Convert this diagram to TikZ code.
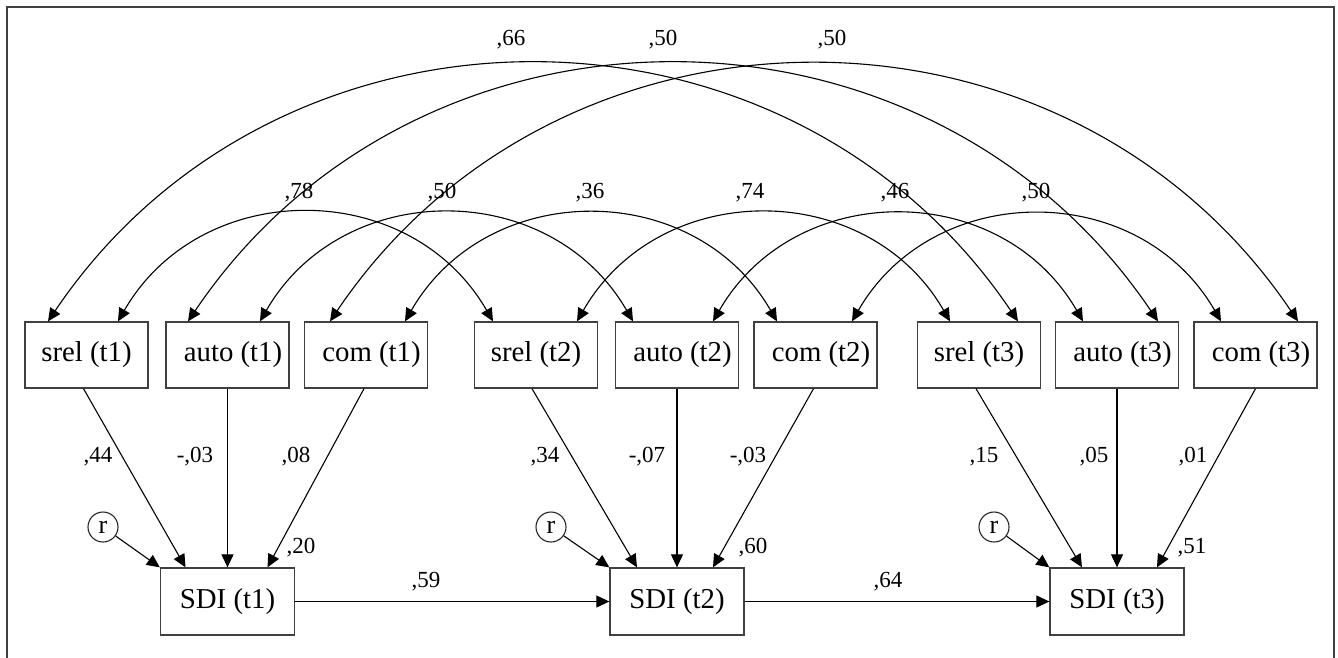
\documentclass[tikz,border=0pt]{standalone}
\usepackage{fontspec}
\setmainfont{Liberation Serif}
\usetikzlibrary{arrows.meta}
\begin{document}
\begin{tikzpicture}[x=1pt,y=1pt,
  box/.style={draw=black!75, line width=1.3pt, minimum width=123pt, minimum height=66pt, inner sep=0pt, font=\fontsize{28.8}{34}\selectfont},
  rbox/.style={box, execute at begin node={\hspace*{11pt}}},
  sdibox/.style={box, minimum width=134pt, minimum height=67pt},
  resid/.style={draw=black!85, line width=1.1pt, circle, minimum size=30pt, inner sep=0pt, font=\fontsize{26}{30}\selectfont},
  lab/.style={inner sep=0pt, font=\fontsize{23}{27}\selectfont},
  conn/.style={line width=1.1pt, -{Triangle[length=13pt,width=12pt]}},
  cov/.style={line width=1.1pt, {Triangle[length=13pt,width=12pt]}-{Triangle[length=13pt,width=12pt]}},
  low/.style={out=60,in=120,looseness=1.14},
  high/.style={out=56,in=124,looseness=1.093},
]
\useasboundingbox (0,0) rectangle (1338,-657);
\draw[black!75, line width=1.3pt] (7,-665) -- (7,-7) -- (1334,-7) -- (1334,-665);

% top row
\node[box] (s1) at (86.5,-355) {srel (t1)};
\node[rbox] (a1) at (227.5,-355) {auto (t1)};
\node[rbox] (c1) at (366,-355) {com (t1)};
\node[box] (s2) at (536,-355) {srel (t2)};
\node[rbox] (a2) at (677,-355) {auto (t2)};
\node[rbox] (c2) at (815.5,-355) {com (t2)};
\node[box] (s3) at (979,-355) {srel (t3)};
\node[rbox] (a3) at (1117,-355) {auto (t3)};
\node[rbox] (c3) at (1255.5,-355) {com (t3)};

% SDI row
\node[sdibox] (d1) at (227.5,-601.5) {SDI (t1)};
\node[sdibox] (d2) at (677,-601.5) {SDI (t2)};
\node[sdibox] (d3) at (1117,-601.5) {SDI (t3)};

% residuals
\node[resid] (r1) at (103,-527) {r};
\node[resid] (r2) at (551,-527) {r};
\node[resid] (r3) at (994,-527) {r};

% paths to SDI
\draw[conn] ([xshift=-3]s1.south) -- ([xshift=-42]d1.north);
\draw[conn] (a1.south) -- (d1.north);
\draw[conn] ([xshift=-2]c1.south) -- ([xshift=40]d1.north);
\draw[conn] (r1) -- (d1.north west);
\draw[conn] ([xshift=-4]s2.south) -- ([xshift=-40]d2.north);
\draw[conn] (a2.south) -- (d2.north);
\draw[conn] ([xshift=-2]c2.south) -- ([xshift=36]d2.north);
\draw[conn] (r2) -- (d2.north west);
\draw[conn] ([xshift=-3]s3.south) -- ([xshift=-35]d3.north);
\draw[conn] (a3.south) -- (d3.north);
\draw[conn] (c3.south) -- ([xshift=40]d3.north);
\draw[conn] (r3) -- (d3.north west);
\draw[conn] (d1.east) -- (d2.west);
\draw[conn] (d2.east) -- (d3.west);

% covariances, lower
\draw[cov] ([xshift=31.5]s1.north) to[low] ([xshift=-43]s2.north);
\draw[cov] ([xshift=32.5]a1.north) to[low] ([xshift=-44]a2.north);
\draw[cov] ([xshift=39]c1.north) to[low] ([xshift=-38.5]c2.north);
\draw[cov] ([xshift=41]s2.north) to[low] ([xshift=-29]s3.north);
\draw[cov] ([xshift=36]a2.north) to[low] ([xshift=-34]a3.north);
\draw[cov] ([xshift=36.5]c2.north) to[low] ([xshift=-34.5]c3.north);

% covariances, upper
\draw[cov] ([xshift=-38.5]s1.north) to[high] ([xshift=39]s3.north);
\draw[cov] ([xshift=-39.5]a1.north) to[high] ([xshift=41]a3.north);
\draw[cov] ([xshift=-36]c1.north) to[high] ([xshift=42.5]c3.north);

% labels
\node[lab] (l66) at (511,-40) {,66};
\node[lab] (l50a) at (663,-40) {,50};
\node[lab] (l50b) at (832,-40) {,50};
\node[lab] (l78) at (299,-193) {,78};
\node[lab] (l50c) at (442,-193) {,50};
\node[lab] (l36) at (590,-193) {,36};
\node[lab] (l74) at (750,-193) {,74};
\node[lab] (l46) at (895,-193) {,46};
\node[lab] (l50d) at (1036,-193) {,50};
\node[lab] (l44) at (98,-457) {,44};
\node[lab] (l03a) at (195,-457) {-,03};
\node[lab] (l08) at (296,-457) {,08};
\node[lab] (l20) at (301,-548) {,20};
\node[lab] (l59) at (426,-582) {,59};
\node[lab] (l34) at (545,-457) {,34};
\node[lab] (l07) at (647,-457) {-,07};
\node[lab] (l03b) at (748,-457) {-,03};
\node[lab] (l60) at (753,-548) {,60};
\node[lab] (l64) at (888,-582) {,64};
\node[lab] (l15) at (984,-457) {,15};
\node[lab] (l05) at (1094,-457) {,05};
\node[lab] (l01) at (1193,-457) {,01};
\node[lab] (l51) at (1192,-548) {,51};
\end{tikzpicture}
\end{document}
